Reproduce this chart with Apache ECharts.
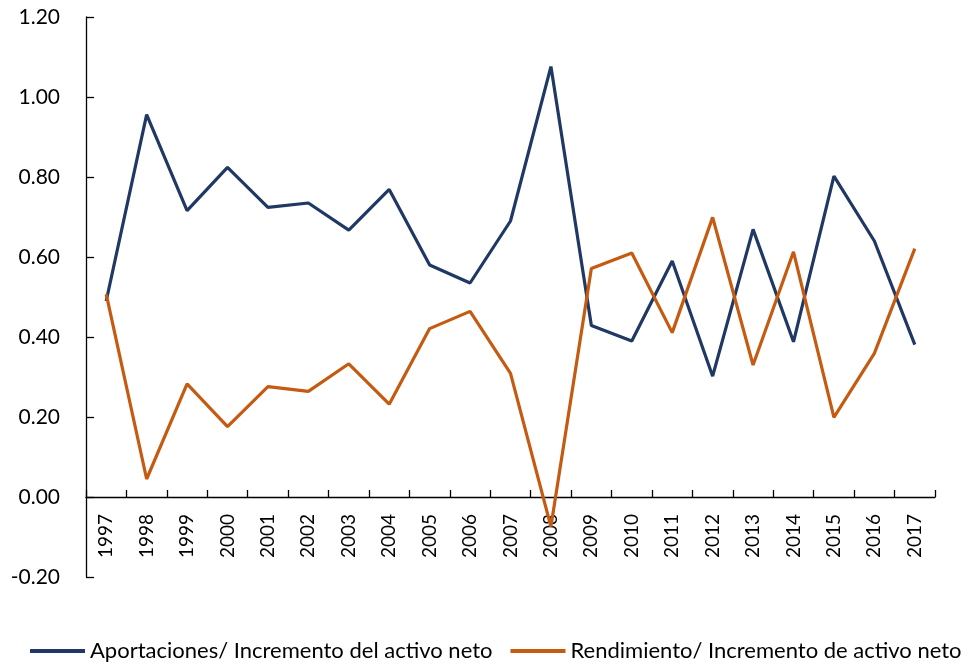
<!DOCTYPE html>
<html lang="es">
<head>
<meta charset="UTF-8" />
<title>Aportaciones y rendimiento</title>
<style>
  html, body { margin: 0; padding: 0; background: #fff; }
  #chart { width: 979px; height: 664px; }
</style>
<script src="https://cdn.jsdelivr.net/npm/echarts@6/dist/echarts.min.js"></script>
</head>
<body>
<div id="chart"></div>
<script>
// años
const years = ['1997', '1998', '1999', '2000', '2001', '2002', '2003', '2004', '2005', '2006', '2007',
  '2008', '2009', '2010', '2011', '2012', '2013', '2014', '2015', '2016', '2017'];

// Aportaciones / Incremento del activo neto
const aportaciones = [0.49, 0.956, 0.716, 0.824, 0.724, 0.735, 0.667, 0.769, 0.58, 0.535, 0.69,
  1.076, 0.429, 0.39, 0.59, 0.302, 0.669, 0.388, 0.802, 0.64, 0.381];

// Rendimiento / Incremento de activo neto
const rendimiento = [0.507, 0.045, 0.283, 0.176, 0.276, 0.264, 0.333, 0.232, 0.421, 0.464, 0.309,
  -0.074, 0.571, 0.61, 0.411, 0.699, 0.33, 0.613, 0.199, 0.359, 0.621];

const seriesNames = ['Aportaciones/ Incremento del activo neto', 'Rendimiento/ Incremento de activo neto'];

const font = 'Lato, "Open Sans", sans-serif';

const chart = echarts.init(document.getElementById('chart'));
chart.setOption({
  animation: false,
  textStyle: { fontFamily: font, color: '#000' },
  grid: { left: 86, right: 44, top: 17, bottom: 87 },
  legend: {
    left: 25,
    top: 635,
    icon: 'rect',
    itemWidth: 55,
    itemHeight: 4,
    itemGap: 18,
    textStyle: { fontFamily: font, fontSize: 22, color: '#000' },
    data: seriesNames
  },
  xAxis: {
    type: 'category',
    data: years,
    boundaryGap: true,
    // the axis sits on the zero line, 80px above the bottom of the grid
    offset: -80,
    axisLine: { onZero: false, lineStyle: { color: '#000', width: 1.3 } },
    axisTick: { show: true, inside: true, length: 7, lineStyle: { color: '#000', width: 1.3 } },
    axisLabel: { rotate: 90, fontSize: 19, color: '#000', margin: 17, interval: 0 },
    splitLine: { show: false }
  },
  yAxis: {
    type: 'value',
    min: -0.2,
    max: 1.2,
    interval: 0.2,
    axisLine: { show: true, lineStyle: { color: '#000', width: 1.3 } },
    axisTick: { show: true, inside: true, length: 8, lineStyle: { color: '#000', width: 1.3 } },
    axisLabel: { fontSize: 21, color: '#000', margin: 26, formatter: v => v.toFixed(2) },
    splitLine: { show: false }
  },
  series: [
    {
      name: seriesNames[0],
      type: 'line',
      data: aportaciones,
      symbol: 'none',
      color: '#1F3864',
      lineStyle: { width: 3.2, color: '#1F3864' }
    },
    {
      name: seriesNames[1],
      type: 'line',
      data: rendimiento,
      symbol: 'none',
      color: '#C55A11',
      lineStyle: { width: 3.2, color: '#C55A11' }
    }
  ]
});
</script>
</body>
</html>
